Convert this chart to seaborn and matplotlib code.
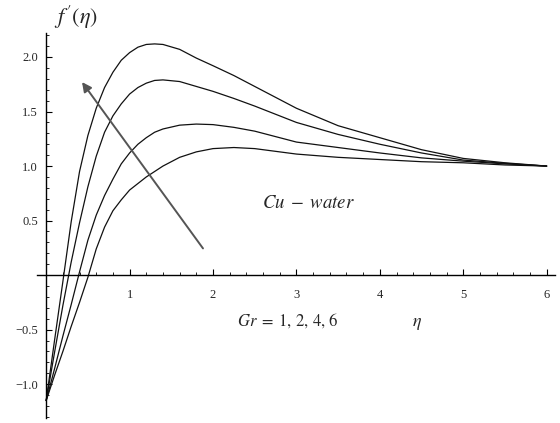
import numpy as np
import pandas as pd
import matplotlib
matplotlib.use('Agg')
import matplotlib.pyplot as plt
from matplotlib.ticker import MultipleLocator, FixedLocator
import seaborn as sns

# values (eta, f'(eta)) for each Gr
eta = [0, 0.1, 0.2, 0.3, 0.4, 0.5, 0.6, 0.7, 0.8, 0.9, 1.0, 1.1, 1.2, 1.3, 1.4,
       1.6, 1.8, 2.0, 2.25, 2.5, 3.0, 3.5, 4.0, 4.5, 5.0, 5.5, 6.0]
gr_values = [6, 4, 2, 1]
fp_gr6 = [-1.15, -0.60, -0.06, 0.49, 0.95, 1.28, 1.53, 1.72, 1.86, 1.97, 2.04, 2.09, 2.115, 2.12, 2.115,
          2.07, 1.99, 1.92, 1.83, 1.73, 1.53, 1.37, 1.26, 1.15, 1.07, 1.03, 1.0]
fp_gr4 = [-1.15, -0.71, -0.28, 0.12, 0.48, 0.81, 1.09, 1.31, 1.46, 1.57, 1.66, 1.72, 1.76, 1.785, 1.79,
          1.775, 1.73, 1.685, 1.62, 1.55, 1.40, 1.29, 1.20, 1.12, 1.055, 1.025, 1.0]
fp_gr2 = [-1.15, -0.86, -0.56, -0.27, 0.03, 0.32, 0.55, 0.73, 0.88, 1.02, 1.12, 1.20, 1.26, 1.31, 1.34,
          1.375, 1.385, 1.38, 1.355, 1.32, 1.22, 1.17, 1.12, 1.075, 1.045, 1.02, 1.0]
fp_gr1 = [-1.15, -0.92, -0.70, -0.47, -0.25, -0.02, 0.24, 0.44, 0.59, 0.69, 0.78, 0.84, 0.90, 0.95, 1.00,
          1.08, 1.13, 1.16, 1.17, 1.16, 1.11, 1.08, 1.06, 1.04, 1.03, 1.01, 1.0]

x_ticks = [1, 2, 3, 4, 5, 6]
y_ticks = [-1.0, -0.5, 0.5, 1.0, 1.5, 2.0]
y_ticklabels = ['\u22121.0', '\u22120.5', '0.5', '1.0', '1.5', '2.0']

df = pd.concat([
    pd.DataFrame({'eta': eta, 'fp': vals, 'Gr': g})
    for g, vals in zip(gr_values, [fp_gr6, fp_gr4, fp_gr2, fp_gr1])
])

sns.set_style('white')
plt.rcParams['font.family'] = ['Liberation Serif', 'DejaVu Serif']
plt.rcParams['mathtext.fontset'] = 'stix'

fig = plt.figure(figsize=(5.6, 4.23), dpi=100)
ax = fig.add_axes([37 / 560, 5 / 423, 518 / 560, 385 / 423])

sns.lineplot(data=df, x='eta', y='fp', hue='Gr', palette=['#111111'] * 4,
             estimator=None, sort=False, linewidth=0.9, legend=False, ax=ax)

ax.set_xlim(-0.11, 6.1)
ax.set_ylim(-1.31, 2.22)
ax.set_xlabel('')
ax.set_ylabel('')

for s in ['top', 'right']:
    ax.spines[s].set_visible(False)
ax.spines['left'].set_position(('data', 0))
ax.spines['bottom'].set_position(('data', 0))
for s in ['left', 'bottom']:
    ax.spines[s].set_linewidth(1.0)
    ax.spines[s].set_color('black')

ax.xaxis.set_major_locator(FixedLocator(x_ticks))
ax.xaxis.set_minor_locator(MultipleLocator(0.2))
ax.yaxis.set_major_locator(FixedLocator(y_ticks))
ax.set_yticklabels(y_ticklabels)
ax.yaxis.set_minor_locator(MultipleLocator(0.1))
ax.tick_params(which='major', direction='in', length=4, width=0.8, color='black',
               labelsize=9)
ax.tick_params(which='minor', direction='in', length=2.2, width=0.6, color='black')
ax.tick_params(axis='x', which='both', bottom=True)
ax.tick_params(axis='y', which='both', left=True)
ax.tick_params(axis='x', which='major', pad=10)
ax.tick_params(axis='y', which='major', pad=6)

ax.annotate('', xy=(0.43, 1.77), xytext=(1.88, 0.245),
            arrowprops=dict(arrowstyle='-|>', color='#555555', lw=1.4,
                            mutation_scale=14, shrinkA=0, shrinkB=0))

ax.text(3.14, 0.66, r'$Cu\;-\;water$', fontsize=13.5, ha='center', va='center')
ax.text(2.90, -0.42, r'$Gr\;=\;1,\,2,\,4,\,6$', fontsize=12, ha='center', va='center')
ax.text(4.45, -0.44, r'$\eta$', fontsize=13, ha='center', va='center')
ax.text(0.36, 2.36, r"$f\,'(\eta)$", fontsize=16, ha='center', va='center', clip_on=False)

fig.savefig('out.png', dpi=100)
